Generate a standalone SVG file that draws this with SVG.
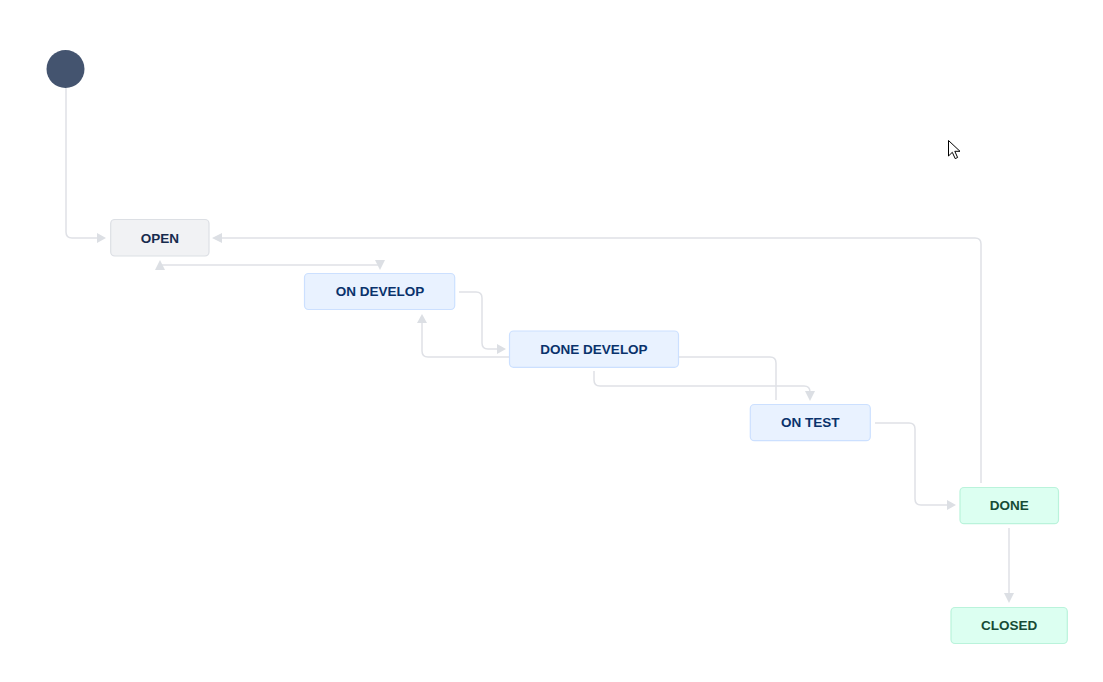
<svg xmlns="http://www.w3.org/2000/svg" width="1103" height="682" viewBox="0 0 1103 682">
<defs>
<style>
.bg{fill:#ffffff}
.edge{fill:none;stroke:#dfe1e6;stroke-width:1.5;stroke-linejoin:round}
.ah{fill:#dcdfe4}
.n rect{stroke-width:1.2}
.gray rect{fill:#f1f2f4;stroke:#dcdfe4}
.blue rect{fill:#e9f2ff;stroke:#cce0ff}
.green rect{fill:#dcfff1;stroke:#baf3db}
.n text{font-family:"Liberation Sans",Arial,sans-serif;font-weight:bold;font-size:13.5px;text-anchor:middle}
.gray text{fill:#172b4d}
.blue text{fill:#09326c}
.green text{fill:#164b35}
</style>
</defs>
<rect class="bg" x="0" y="0" width="1103" height="682"/>
<g id="connectors">
<path class="edge" d="M66,88 V232 Q66,238 72,238 H98"/>
<polygon class="ah" points="97,233 106,238 97,243"/>
<path class="edge" d="M981,483 V244 Q981,238 975,238 H221"/>
<polygon class="ah" points="222,233 212,238 222,243"/>
<path class="edge" d="M160,268 V265 H380 V262"/>
<polygon class="ah" points="155,270 160,260 165,270"/>
<polygon class="ah" points="375,260 385,260 380,270"/>
<path class="edge" d="M459,292 H476 Q482,292 482,298 V343 Q482,349 488,349 H498"/>
<polygon class="ah" points="497,344 506,349 497,354"/>
<path class="edge" d="M776,400 V363 Q776,357 770,357 H428 Q422,357 422,351 V322"/>
<polygon class="ah" points="417,323 422,314 427,323"/>
<path class="edge" d="M594,371 V380 Q594,386 600,386 H804 Q810,386 810,392 V393"/>
<polygon class="ah" points="805,391 815,391 810,401"/>
<path class="edge" d="M875,423 H909 Q915,423 915,429 V499 Q915,505 921,505 H948"/>
<polygon class="ah" points="947,500 956,505 947,510"/>
<path class="edge" d="M1009,528 V594"/>
<polygon class="ah" points="1004,593 1014,593 1009,603"/>
</g>
<g id="start">
<circle cx="65.5" cy="69" r="19" fill="#44546f"/>
</g>
<g id="open" class="n gray">
<rect x="110.7" y="219.5" width="98.3" height="36.5" rx="4"/>
<text x="160" y="242.8">OPEN</text>
</g>
<g id="on-develop" class="n blue">
<rect x="304.5" y="273.5" width="150.2" height="36" rx="4"/>
<text x="380" y="296.3">ON DEVELOP</text>
</g>
<g id="done-develop" class="n blue">
<rect x="509.5" y="331" width="169" height="36.3" rx="4"/>
<text x="594" y="353.8">DONE DEVELOP</text>
</g>
<g id="on-test" class="n blue">
<rect x="750.3" y="404.5" width="120" height="36.2" rx="4"/>
<text x="810.3" y="427.2">ON TEST</text>
</g>
<g id="done" class="n green">
<rect x="960" y="487.5" width="98.5" height="36.2" rx="4"/>
<text x="1009.3" y="510">DONE</text>
</g>
<g id="closed" class="n green">
<rect x="951" y="607.5" width="116.3" height="36" rx="4"/>
<text x="1009.2" y="630">CLOSED</text>
</g>
<g id="cursor">
<polygon points="948.5,140.5 948.5,156 952.3,152.3 955.2,158.6 957.6,157.5 954.8,151.3 960,151.3" fill="#ffffff" stroke="#000000" stroke-width="1" stroke-linejoin="miter"/>
</g>
</svg>
